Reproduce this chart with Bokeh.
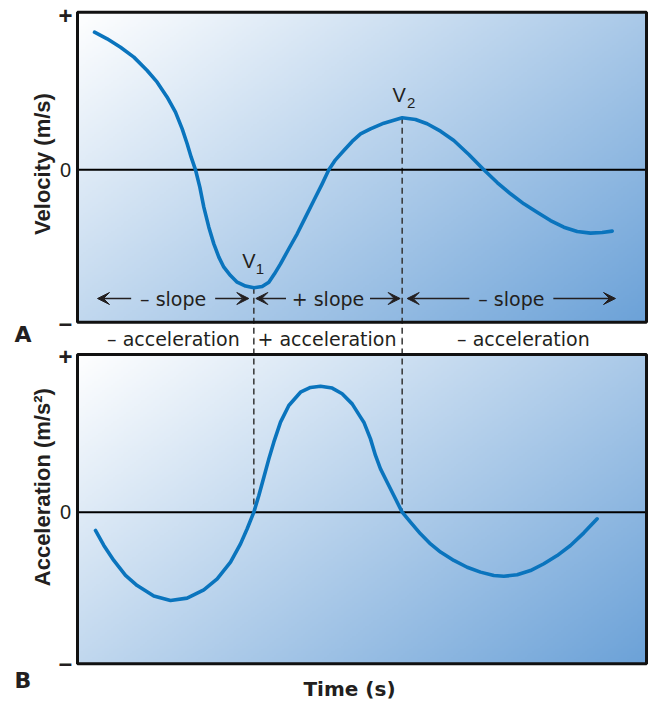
import numpy as np
from bokeh.plotting import figure
from bokeh.models import Range1d, Arrow, VeeHead
from bokeh.core.properties import value
from bokeh.embed import file_html
from bokeh.resources import INLINE

# ---------------- data ----------------
vel_time = [0.299, 0.521, 0.756, 0.990, 1.224, 1.400, 1.576, 1.722, 1.840, 1.927,
            1.998, 2.074, 2.150, 2.220, 2.308, 2.396, 2.484, 2.572, 2.689, 2.806,
            2.953, 3.099, 3.245, 3.363, 3.462, 3.568, 3.714, 3.861, 4.007, 4.153,
            4.300, 4.417, 4.534, 4.681, 4.827, 4.974, 5.149, 5.384, 5.706, 5.940,
            6.145, 6.380, 6.614, 6.877, 7.141, 7.376, 7.610, 7.844, 8.078, 8.313,
            8.547, 8.782, 9.016, 9.221, 9.397]
vel_value = [0.873, 0.831, 0.778, 0.715, 0.630, 0.556, 0.461, 0.366, 0.260, 0.165,
             0.080, 0.0, -0.110, -0.237, -0.364, -0.470, -0.554, -0.618, -0.671, -0.713,
             -0.738, -0.749, -0.740, -0.713, -0.660, -0.597, -0.501, -0.406, -0.300, -0.195,
             -0.089, 0.0, 0.063, 0.122, 0.180, 0.228, 0.260, 0.296, 0.330, 0.319,
             0.292, 0.245, 0.186, 0.097, 0.0, -0.081, -0.152, -0.216, -0.269, -0.322,
             -0.364, -0.392, -0.402, -0.398, -0.389]

acc_time = [0.316, 0.463, 0.638, 0.844, 1.049, 1.341, 1.634, 1.927, 2.220, 2.455,
            2.689, 2.865, 2.982, 3.099, 3.187, 3.275, 3.363, 3.450, 3.568, 3.714,
            3.919, 4.095, 4.271, 4.476, 4.651, 4.827, 4.974, 5.032, 5.149, 5.237,
            5.325, 5.442, 5.559, 5.706, 5.852, 6.028, 6.204, 6.380, 6.614, 6.848,
            7.083, 7.317, 7.493, 7.727, 7.961, 8.196, 8.430, 8.664, 8.899, 9.133]
acc_value = [-0.116, -0.211, -0.306, -0.401, -0.465, -0.532, -0.560, -0.545, -0.492, -0.423,
             -0.317, -0.201, -0.105, 0.0, 0.106, 0.222, 0.338, 0.444, 0.571, 0.677,
             0.761, 0.791, 0.799, 0.787, 0.751, 0.687, 0.603, 0.571, 0.465, 0.360,
             0.275, 0.190, 0.106, 0.0, -0.063, -0.137, -0.201, -0.253, -0.306, -0.349,
             -0.380, -0.401, -0.406, -0.397, -0.370, -0.327, -0.275, -0.211, -0.131, -0.042]

tick_labels = ["\u2013", "0", "+"]
slope_labels = ["\u2013 slope", "+ slope", "\u2013 slope"]
accel_labels = ["\u2013 acceleration", "+ acceleration", "\u2013 acceleration"]
vel_title = "Velocity (m/s)"
acc_title = "Acceleration (m/s\u00b2)"
time_title = "Time (s)"

# ---------------- layout helpers (page pixel -> data units) ----------------
W, H = 648, 701
OFF = 0
PX_T = 56.9
def tx(px):
    return (px - 77.0) / PX_T
def vy(py):
    return (169.3 - py) / 157.6
def ay(py):
    return (511.7 - py) / 157.7

T_MIN, T_MAX = 0.0, 10.0
VEL_TOP, VEL_BOT = vy(11.7), vy(321.7)
ACC_TOP, ACC_BOT = ay(354.0), ay(663.3)

INK = "#231f20"
BLUE = "#0a74bd"
FONT = value("DejaVu Sans")
FONT_B = value("Liberation Sans")

p = figure(width=W, height=H, output_backend="svg", toolbar_location=None,
           x_range=Range1d(tx(OFF), tx(OFF + W)),
           y_range=Range1d(vy(OFF + H), vy(OFF)),
           min_border=0, x_axis_type=None, y_axis_type=None)
p.extra_y_ranges = {"acc": Range1d(ay(OFF + H), ay(OFF))}
p.outline_line_color = None
p.grid.visible = False
p.background_fill_color = "white"
p.border_fill_color = "white"

# ---------------- gradient backgrounds ----------------
def gradient(nx, ny):
    img = np.empty((ny, nx), dtype=np.uint32)
    v = img.view(dtype=np.uint8).reshape((ny, nx, 4))
    u = np.linspace(0, 1, nx)[None, :]
    w = 1 - np.linspace(0, 1, ny)[:, None]
    s = np.clip(0.58 * u + 0.42 * w, 0, 1)
    end = (108, 162, 216)
    v[:, :, 0] = (255 + (end[0] - 255) * s).astype(np.uint8)
    v[:, :, 1] = (255 + (end[1] - 255) * s).astype(np.uint8)
    v[:, :, 2] = (255 + (end[2] - 255) * s).astype(np.uint8)
    v[:, :, 3] = 255
    return img

p.image_rgba(image=[gradient(300, 160)], x=T_MIN, y=VEL_BOT, dw=T_MAX - T_MIN,
             dh=VEL_TOP - VEL_BOT)
p.image_rgba(image=[gradient(300, 160)], x=T_MIN, y=ACC_BOT, dw=T_MAX - T_MIN,
             dh=ACC_TOP - ACC_BOT, y_range_name="acc")

# ---------------- V1 / V2 markers ----------------
vt = np.array(vel_time)
vv = np.array(vel_value)
i1 = int(np.argmin(vv))
half = len(vv) // 2
i2 = half + int(np.argmax(vv[half:]))
t1, v1 = vt[i1], vv[i1]
t2, v2 = vt[i2], vv[i2]

GAP_V = vy(338)
GAP_A = ay(338)
for tt, top in ((t1, v1), (t2, v2)):
    p.segment(x0=[tt], y0=[top], x1=[tt], y1=[GAP_V], line_color="#333333",
              line_width=1.5, line_dash="6 4")
    p.segment(x0=[tt], y0=[GAP_A], x1=[tt], y1=[0], line_color="#333333",
              line_width=1.5, line_dash="6 4", y_range_name="acc")

# zero lines
p.line([T_MIN, T_MAX], [0, 0], line_color="black", line_width=2)
p.line([T_MIN, T_MAX], [0, 0], line_color="black", line_width=2, y_range_name="acc")

# curves
p.line(vel_time, vel_value, line_color=BLUE, line_width=3.6, line_join="round",
       line_cap="round")
p.line(acc_time, acc_value, line_color=BLUE, line_width=3.6, line_join="round",
       line_cap="round", y_range_name="acc")

# panel borders
p.quad(left=[T_MIN], right=[T_MAX], bottom=[VEL_BOT], top=[VEL_TOP],
       fill_color=None, line_color="#111111", line_width=3)
p.quad(left=[T_MIN], right=[T_MAX], bottom=[ACC_BOT], top=[ACC_TOP],
       fill_color=None, line_color="#111111", line_width=3, y_range_name="acc")

# V labels
p.text(x=[t1, t2], y=[v1, v2], text=["V", "V"], x_offset=[-5, -3], y_offset=[-27, -23],
       text_font=FONT_B, text_font_size="20px", text_align="center",
       text_baseline="middle", text_color=INK)
p.text(x=[t1, t2], y=[v1, v2], text=["1", "2"], x_offset=[6, 9], y_offset=[-19, -15],
       text_font=FONT_B, text_font_size="15px", text_align="center",
       text_baseline="middle", text_color=INK)

# slope annotations with arrows
ARROW_Y = vy(298)
regions = [(tx(97), t1 - 5 / PX_T), (t1 + 2 / PX_T, t2 - 2 / PX_T),
           (t2 + 5 / PX_T, tx(615))]
half_w = 42 / PX_T
centers = []
for (a, b) in regions:
    c = (a + b) / 2
    centers.append(c)
    for (xs, xe) in ((c - half_w, a), (c + half_w, b)):
        p.add_layout(Arrow(end=VeeHead(size=12, fill_color=INK, line_color=INK,
                                       line_width=1),
                           x_start=xs, y_start=ARROW_Y, x_end=xe, y_end=ARROW_Y,
                           line_color=INK, line_width=1.7))
p.text(x=centers, y=[ARROW_Y] * 3, text=slope_labels, text_font=FONT,
       text_font_size="19px", text_align="center", text_baseline="middle",
       text_color=INK)

# acceleration row (between panels)
p.text(x=[tx(172.9), tx(326.5), tx(522.9)], y=[vy(338)] * 3, text=accel_labels,
       text_font=FONT, text_font_size="19px", text_align="center",
       text_baseline="middle", text_color=INK)

# tick labels
tick_x = tx(65)
p.text(x=[tick_x] * 3, y=[vy(321.7), 0, vy(15)], text=tick_labels,
       text_font=FONT_B, text_font_size=["24px", "20px", "24px"],
       text_font_style=["bold", "normal", "bold"],
       text_align="center", text_baseline="middle", text_color=INK)
p.text(x=[tick_x] * 3, y=[ay(662), 0, ay(356)], text=tick_labels,
       text_font=FONT_B, text_font_size=["24px", "20px", "24px"],
       text_font_style=["bold", "normal", "bold"],
       text_align="center", text_baseline="middle", text_color=INK, y_range_name="acc")

# axis titles
p.text(x=[tx(42)], y=[vy(163.5)], text=[vel_title], angle=np.pi / 2,
       text_font=FONT_B, text_font_size="22px", text_font_style="bold",
       text_align="center", text_baseline="middle", text_color=INK)
p.text(x=[tx(42)], y=[ay(486.7)], text=[acc_title], angle=np.pi / 2,
       text_font=FONT_B, text_font_size="22px", text_font_style="bold",
       text_align="center", text_baseline="middle", text_color=INK, y_range_name="acc")
p.text(x=[tx(349)], y=[ay(688)], text=[time_title], text_font=value("DejaVu Sans"),
       text_font_size="20px", text_font_style="bold", text_align="center",
       text_baseline="middle", text_color=INK, y_range_name="acc")

# panel letters
p.text(x=[tx(22.5)], y=[vy(333.5)], text=["A"], text_font=value("DejaVu Sans"),
       text_font_size="22px", text_font_style="bold", text_align="center",
       text_baseline="middle", text_color=INK)
p.text(x=[tx(22.5)], y=[ay(680)], text=["B"], text_font=value("DejaVu Sans"),
       text_font_size="22px", text_font_style="bold", text_align="center",
       text_baseline="middle", text_color=INK, y_range_name="acc")

open("out.html", "w").write(file_html(p, INLINE))
